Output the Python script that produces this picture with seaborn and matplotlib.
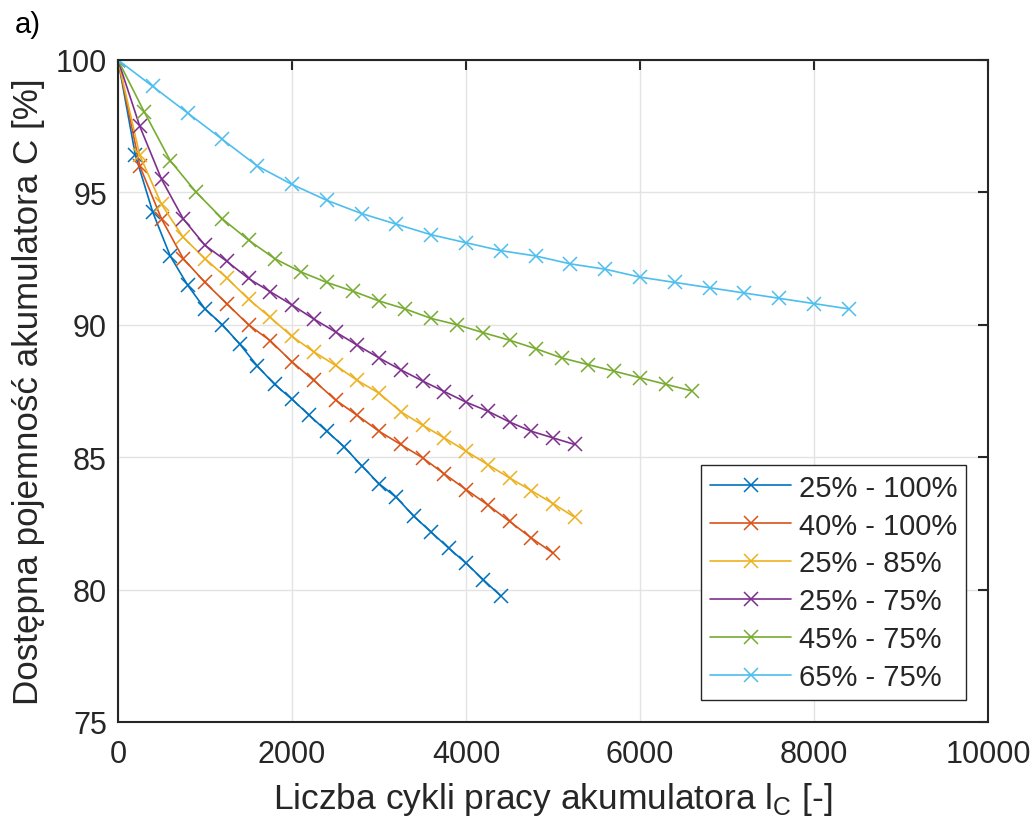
import numpy as np
import pandas as pd
import matplotlib
matplotlib.use("Agg")
import matplotlib.pyplot as plt
import seaborn as sns

# Capacity fade vs. number of cycles for several depth-of-discharge windows
labels = ["25% - 100%", "40% - 100%", "25% - 85%", "25% - 75%", "45% - 75%", "65% - 75%"]
colors = ["#0072BD", "#D95319", "#EDB120", "#7E2F8E", "#77AC30", "#4DBEEE"]

cycles_25_100 = list(range(0, 4401, 200))
cap_25_100 = [100, 96.4, 94.25, 92.6, 91.5, 90.6, 90.0, 89.27, 88.45, 87.75, 87.19, 86.58,
              85.98, 85.39, 84.68, 84.0, 83.48, 82.77, 82.17, 81.57, 81.0, 80.37, 79.76]

cycles_40_100 = list(range(0, 5001, 250))
cap_40_100 = [100, 96.0, 94.0, 92.5, 91.6, 90.8, 90.0, 89.4, 88.6, 87.9, 87.16, 86.58,
              85.98, 85.48, 84.98, 84.37, 83.78, 83.2, 82.58, 81.95, 81.38]

cycles_25_85 = list(range(0, 5251, 250))
cap_25_85 = [100, 96.4, 94.55, 93.3, 92.5, 91.77, 90.97, 90.28, 89.56, 88.98, 88.47, 87.9,
             87.42, 86.72, 86.21, 85.73, 85.23, 84.72, 84.22, 83.74, 83.25, 82.73]

cycles_25_75 = list(range(0, 5251, 250))
cap_25_75 = [100, 97.5, 95.5, 94.0, 93.0, 92.4, 91.75, 91.25, 90.75, 90.22, 89.73, 89.23,
             88.75, 88.3, 87.88, 87.48, 87.08, 86.74, 86.33, 85.98, 85.73, 85.48]

cycles_45_75 = list(range(0, 6601, 300))
cap_45_75 = [100, 98.05, 96.2, 95.0, 94.0, 93.2, 92.5, 92.0, 91.6, 91.27, 90.9, 90.6,
             90.24, 90.0, 89.7, 89.42, 89.1, 88.75, 88.5, 88.25, 88.0, 87.75, 87.5]

cycles_65_75 = list(range(0, 8401, 400))
cap_65_75 = [100, 99.0, 98.0, 97.0, 96.0, 95.3, 94.7, 94.2, 93.8, 93.4, 93.1, 92.8,
             92.6, 92.3, 92.1, 91.8, 91.6, 91.4, 91.2, 91.0, 90.8, 90.6]

series = [
    (cycles_25_100, cap_25_100),
    (cycles_40_100, cap_40_100),
    (cycles_25_85, cap_25_85),
    (cycles_25_75, cap_25_75),
    (cycles_45_75, cap_45_75),
    (cycles_65_75, cap_65_75),
]

x_ticks = [0, 2000, 4000, 6000, 8000, 10000]
y_ticks = [75, 80, 85, 90, 95, 100]

sns.set_style("white")
plt.rcParams["font.family"] = ["Liberation Sans", "DejaVu Sans"]
plt.rcParams["mathtext.fontset"] = "custom"
plt.rcParams["mathtext.rm"] = "Liberation Sans"

fig = plt.figure(figsize=(10.34, 8.29), dpi=100)
ax = fig.add_axes([118 / 1034, 1 - 723 / 829, 870 / 1034, 662 / 829])

frames = []
for lab, (xs, ys) in zip(labels, series):
    frames.append(pd.DataFrame({"cycles": xs, "capacity": ys, "range": lab}))
df = pd.concat(frames, ignore_index=True)

for lab, col in zip(labels, colors):
    sub = df[df["range"] == lab]
    sns.lineplot(data=sub, x="cycles", y="capacity", ax=ax, color=col, label=lab,
                 marker="x", markersize=10.5, markeredgewidth=1.1, markeredgecolor=col,
                 linewidth=1.2, estimator=None, sort=False)

ax.set_xlim(0, 10000)
ax.set_ylim(75, 100)
ax.set_xticks(x_ticks)
ax.set_yticks(y_ticks)
ax.set_xticklabels([str(t) for t in x_ticks])
ax.set_yticklabels([str(t) for t in y_ticks])

ax.grid(True, color="#e3e3e3", linewidth=1.0)
ax.set_axisbelow(True)
for s in ax.spines.values():
    s.set_visible(True)
    s.set_color("#262626")
    s.set_linewidth(1.5)
ax.tick_params(axis="both", direction="in", length=7, width=1.5, color="#262626",
               labelsize=22, labelcolor="#262626", top=True, right=True)
ax.tick_params(axis="x", pad=12)
ax.tick_params(axis="y", pad=8)

ax.set_xlabel(r"Liczba cykli pracy akumulatora l$_\mathregular{C}$ [-]", fontsize=25.5,
              color="#262626", labelpad=8)
ax.set_ylabel("Dostępna pojemność akumulatora C [%]", fontsize=25.2, color="#262626",
              labelpad=8)

leg = ax.legend(loc="lower right", bbox_to_anchor=(848 / 870, 22 / 662),
                borderaxespad=0, fontsize=21, frameon=True, fancybox=False,
                edgecolor="#262626", framealpha=1,
                handlelength=2.8, handletextpad=0.25, labelspacing=0.34,
                borderpad=0.3)
leg.get_frame().set_linewidth(1.0)

fig.text(15 / 1034, 1 - 33 / 829, "a)", fontsize=21, color="black", ha="left",
         va="baseline")

fig.savefig("out.png", dpi=100)
